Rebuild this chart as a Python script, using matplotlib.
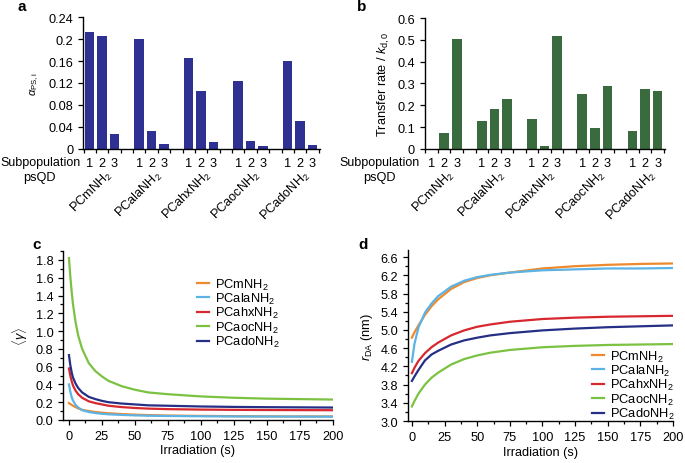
import matplotlib
matplotlib.use("Agg")
import matplotlib.pyplot as plt
import matplotlib.transforms as mtransforms
from matplotlib.ticker import MultipleLocator, FixedLocator
import numpy as np

plt.rcParams["font.family"] = ["Liberation Sans", "DejaVu Sans"]
plt.rcParams["mathtext.fontset"] = "custom"
plt.rcParams["mathtext.rm"] = "Liberation Sans"
plt.rcParams["mathtext.it"] = "Liberation Sans:italic"
plt.rcParams["mathtext.bf"] = "Liberation Sans:bold"

# ---- data -----------------------------------------------------------------
groups = ["PCmNH$_2$", "PCalaNH$_2$", "PCahxNH$_2$", "PCaocNH$_2$", "PCadoNH$_2$"]
subpops = ["1", "2", "3"]

alpha_ps = [
    [0.213, 0.205, 0.027],
    [0.200, 0.033, 0.008],
    [0.165, 0.106, 0.013],
    [0.123, 0.014, 0.005],
    [0.160, 0.050, 0.007],
]
transfer_rate = [
    [0.0, 0.075, 0.505],
    [0.130, 0.183, 0.228],
    [0.136, 0.013, 0.517],
    [0.252, 0.097, 0.287],
    [0.080, 0.275, 0.267],
]

t_c = [0, 1, 2, 3, 5, 7, 10, 15, 20, 25, 30, 40, 50, 60, 75, 100, 125, 150, 175, 200]
gamma_m   = [0.19, 0.18, 0.17, 0.16, 0.145, 0.13, 0.115, 0.10, 0.09, 0.082, 0.076, 0.067, 0.06, 0.055, 0.05, 0.046, 0.043, 0.041, 0.04, 0.04]
gamma_ala = [0.40, 0.32, 0.26, 0.22, 0.17, 0.14, 0.11, 0.09, 0.078, 0.07, 0.064, 0.057, 0.052, 0.048, 0.045, 0.042, 0.040, 0.039, 0.038, 0.037]
gamma_ahx = [0.58, 0.50, 0.44, 0.39, 0.33, 0.29, 0.25, 0.21, 0.19, 0.175, 0.16, 0.145, 0.135, 0.128, 0.122, 0.117, 0.114, 0.112, 0.111, 0.11]
gamma_aoc = [1.82, 1.62, 1.45, 1.31, 1.10, 0.95, 0.80, 0.64, 0.55, 0.49, 0.44, 0.38, 0.34, 0.31, 0.29, 0.265, 0.25, 0.24, 0.235, 0.23]
gamma_ado = [0.73, 0.62, 0.54, 0.48, 0.41, 0.36, 0.31, 0.26, 0.235, 0.215, 0.20, 0.185, 0.175, 0.165, 0.16, 0.152, 0.147, 0.144, 0.142, 0.14]

t_d = [0, 2, 5, 10, 15, 20, 30, 40, 50, 60, 75, 100, 125, 150, 175, 200]
rda_m   = [4.83, 4.95, 5.10, 5.33, 5.52, 5.67, 5.90, 6.05, 6.14, 6.20, 6.26, 6.35, 6.40, 6.43, 6.45, 6.46]
rda_ala = [4.30, 4.70, 5.05, 5.38, 5.58, 5.74, 5.95, 6.08, 6.16, 6.21, 6.26, 6.31, 6.33, 6.35, 6.35, 6.36]
rda_ahx = [4.05, 4.17, 4.32, 4.49, 4.62, 4.72, 4.88, 4.99, 5.07, 5.12, 5.18, 5.24, 5.27, 5.29, 5.30, 5.31]
rda_aoc = [3.32, 3.44, 3.60, 3.80, 3.95, 4.06, 4.24, 4.36, 4.44, 4.50, 4.56, 4.62, 4.65, 4.67, 4.68, 4.69]
rda_ado = [3.88, 3.98, 4.12, 4.33, 4.46, 4.54, 4.68, 4.77, 4.83, 4.88, 4.93, 4.99, 5.03, 5.06, 5.08, 5.10]

line_colors = ["#EE8A2E", "#5BB3E6", "#D7282F", "#7CC242", "#262F86"]

FS = 9.2
LEG_FS = 9.3


def style_axes(ax):
    for s in ("top", "right"):
        ax.spines[s].set_visible(False)
    for s in ("left", "bottom"):
        ax.spines[s].set_linewidth(1.0)
    ax.tick_params(which="both", direction="out", labelsize=FS, width=0.9)
    ax.tick_params(which="major", length=3.5)
    ax.tick_params(which="minor", length=2.5)


def bar_panel(ax, values, color, yticks, yticklabels, sub_x, psqd_x):
    slots = []
    heights = []
    for g, vals in enumerate(values):
        for i, v in enumerate(vals):
            slots.append(g * 4 + i)
            heights.append(v)
    ax.bar(slots, heights, width=0.77, color=color, zorder=2)
    style_axes(ax)
    ax.set_xlim(-0.55, 18.6)
    ax.set_ylim(yticks[0], yticks[-1])
    ax.set_yticks(yticks)
    ax.set_yticklabels(yticklabels)
    ax.set_xticks(slots)
    ax.set_xticklabels(subpops * len(values))
    ax.tick_params(axis="x", which="major", length=0, pad=6)
    ax.xaxis.set_minor_locator(FixedLocator(np.arange(-0.5, 19, 1.0)))
    ax.tick_params(axis="x", which="minor", length=3)
    ax.text(sub_x, -0.10, "Subpopulation", transform=ax.transAxes,
            ha="right", va="center", fontsize=9.0)
    ax.text(psqd_x, -0.215, "psQD", transform=ax.transAxes,
            ha="center", va="center", fontsize=FS)
    trans = mtransforms.blended_transform_factory(ax.transData, ax.transAxes)
    for g, name in enumerate(groups):
        ax.text(g * 4 + 2.1, -0.135, name, transform=trans, rotation=45,
                ha="right", va="top", fontsize=FS)


fig = plt.figure(figsize=(6.85, 4.64), dpi=100)

ax_a = fig.add_axes([0.121, 0.677, 0.346, 0.284])
ax_b = fig.add_axes([0.620, 0.677, 0.351, 0.282])
ax_c = fig.add_axes([0.092, 0.0927, 0.394, 0.364])
ax_d = fig.add_axes([0.5956, 0.0905, 0.387, 0.368])

yt_a = [0, 0.04, 0.08, 0.12, 0.16, 0.2, 0.24]
bar_panel(ax_a, alpha_ps, "#2E3192", yt_a, [f"{v:g}" for v in yt_a], -0.008, -0.185)
ax_a.set_ylabel(r"$\alpha_{\rm PS,i}$", fontsize=8, labelpad=5)

yt_b = [0, 0.1, 0.2, 0.3, 0.4, 0.5, 0.6]
bar_panel(ax_b, transfer_rate, "#3A6B3E", yt_b, [f"{v:g}" for v in yt_b], -0.02, -0.19)
ax_b.set_ylabel(r"Transfer rate / $k_{\rm d,0}$", fontsize=FS, labelpad=4)

legend_kw = dict(loc="upper left", frameon=False, fontsize=LEG_FS,
                 handlelength=0.9, handletextpad=0.5, labelspacing=-0.05,
                 borderpad=0, borderaxespad=0)

gamma_series = [gamma_m, gamma_ala, gamma_ahx, gamma_aoc, gamma_ado]
for name, ys, col in zip(groups, gamma_series, line_colors):
    ax_c.plot(t_c, ys, color=col, lw=1.6, label=name)
style_axes(ax_c)
ax_c.set_xlim(-4.5, 200)
ax_c.set_ylim(0, 1.9)
ax_c.set_xticks(range(0, 201, 25))
ax_c.xaxis.set_minor_locator(MultipleLocator(12.5))
ax_c.set_yticks(np.arange(0, 1.81, 0.2))
ax_c.set_yticklabels([f"{v:.1f}" for v in np.arange(0, 1.81, 0.2)])
ax_c.yaxis.set_minor_locator(MultipleLocator(0.1))
ax_c.set_xlabel("Irradiation (s)", fontsize=FS, labelpad=2)
ax_c.set_ylabel(r"$\langle\gamma\rangle$", fontsize=FS, labelpad=4)
ax_c.legend(bbox_to_anchor=(0.496, 0.85), **legend_kw)

rda_series = [rda_m, rda_ala, rda_ahx, rda_aoc, rda_ado]
for name, ys, col in zip(groups, rda_series, line_colors):
    ax_d.plot(t_d, ys, color=col, lw=1.6, label=name)
style_axes(ax_d)
ax_d.set_xlim(-3, 200)
ax_d.set_ylim(3.0, 6.75)
ax_d.set_xticks(range(0, 201, 25))
ax_d.xaxis.set_minor_locator(MultipleLocator(12.5))
yt_d = np.arange(3.0, 6.61, 0.4)
ax_d.set_yticks(yt_d)
ax_d.set_yticklabels([f"{v:.1f}" for v in yt_d])
ax_d.yaxis.set_minor_locator(MultipleLocator(0.2))
ax_d.set_xlabel("Irradiation (s)", fontsize=FS, labelpad=2)
ax_d.set_ylabel(r"$r_{\rm DA}$ (nm)", fontsize=FS, labelpad=4)
ax_d.legend(bbox_to_anchor=(0.694, 0.425), **legend_kw)

for label, (x, y) in zip("abcd", [(0.032, 0.985), (0.528, 0.985), (0.054, 0.472), (0.53, 0.472)]):
    fig.text(x, y, label, fontsize=11, fontweight="bold", ha="center", va="center")

fig.savefig("out.png", dpi=100)
